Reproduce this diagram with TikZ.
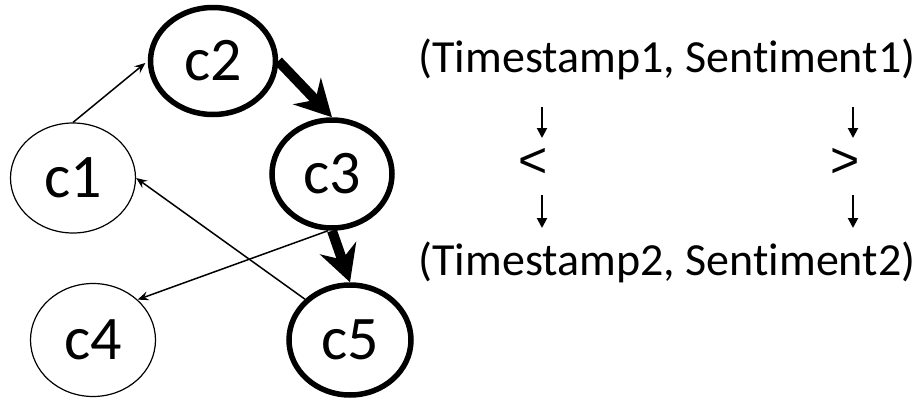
\documentclass[tikz,border=0pt]{standalone}
\usepackage{fontspec}
\setmainfont{Carlito}[Ligatures={NoCommon}]
\newfontfamily\relfont{Liberation Sans}
\usetikzlibrary{shapes.geometric,arrows.meta}
\begin{document}
\begin{tikzpicture}[x=1pt,y=-1pt,
  state/.style={draw,ellipse,inner sep=0pt,line width=1.2pt,
    font=\fontsize{62}{70}\selectfont},
  hot/.style={state,line width=5.5pt},
  thinedge/.style={line width=1.5pt,-{Stealth[length=11pt,width=9pt,inset=4pt]}},
  heavyedge/.style={line width=10pt,-{Stealth[length=36pt,width=38pt,inset=12pt]}},
  tuple/.style={font=\fontsize{46}{54}\selectfont,inner sep=0pt},
  rel/.style={font=\relfont\fontsize{50}{56}\selectfont,inner sep=0pt},
  down/.style={line width=2pt,-{Triangle[length=10pt,width=10pt]}}]
\useasboundingbox (0,0) rectangle (922,399);

% graph of states
\node[state,minimum width=125pt,minimum height=110pt] (c1) at (73,178) {c1};
\node[hot,minimum width=125pt,minimum height=107pt] (c2) at (213,61) {c2};
\node[hot,minimum width=120pt,minimum height=108pt] (c3) at (332,174) {c3};
\node[state,minimum width=125pt,minimum height=113pt] (c4) at (93,340) {c4};
\node[hot,minimum width=122pt,minimum height=110pt] (c5) at (350,340) {c5};

\draw[thinedge,shorten >=3pt] (c1.north) -- (c2.west);
\draw[heavyedge] (c2.east) -- (c3.north);
\draw[heavyedge] (c3.south) -- (c5.north);
\draw[thinedge] (c3.south) ++(-4,0) coordinate (c3s) (c3s) -- (c4.north east);
\draw[thinedge] (c5.north west) -- (c1.east);

% comparison of the two tuples
\node[tuple,anchor=base] (t1) at (667,72) {(Timestamp1, Sentiment1)};
\node[tuple,anchor=base] (t2) at (667,275) {(Timestamp2, Sentiment2)};
\node[rel] (lt) at (533,163) {<};
\node[rel] (gt) at (845,163) {>};

\coordinate (la) at (542,107); \coordinate (lb) at (542,138);
\coordinate (lc) at (542,195); \coordinate (ld) at (542,228);
\coordinate (ra) at (853,107); \coordinate (rb) at (853,138);
\coordinate (rc) at (853,195); \coordinate (rd) at (853,228);
\draw[down] (la) -- (lb);
\draw[down] (lc) -- (ld);
\draw[down] (ra) -- (rb);
\draw[down] (rc) -- (rd);
\end{tikzpicture}
\end{document}
